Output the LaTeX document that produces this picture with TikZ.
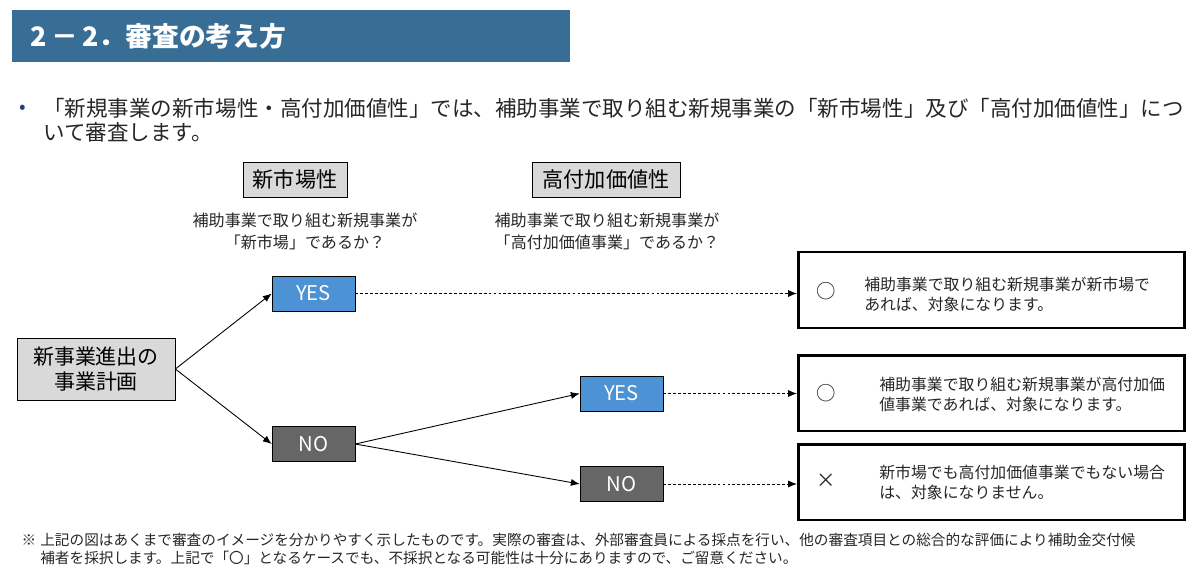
\documentclass[tikz,border=0pt]{standalone}
\usepackage{fontspec}
\newfontfamily\jp{Noto Sans CJK JP}
\usetikzlibrary{arrows.meta}
\definecolor{titleblue}{RGB}{56,110,150}
\definecolor{yesblue}{RGB}{77,146,212}
\definecolor{nogray}{RGB}{102,102,102}
\definecolor{boxgray}{RGB}{217,217,217}
\definecolor{inkgray}{RGB}{38,38,38}
\definecolor{dotblue}{RGB}{40,60,120}

\begin{document}
\begin{tikzpicture}[x=0.567pt,y=-0.567pt,font=\jp,text=inkgray]
	\tikzstyle{Q}=[draw=black,fill=boxgray,text=black,inner sep=0pt,minimum height=20pt,font=\jp\fontsize{12}{14}\selectfont]
	\tikzstyle{YES}=[draw=black,fill=yesblue,text=white,inner sep=0pt,minimum width=47pt,minimum height=20pt,font=\jp\fontsize{11.5}{13}\selectfont]
	\tikzstyle{NO}=[YES,fill=nogray]
	\tikzstyle{ANS}=[draw=black,line width=1.6pt,minimum width=219pt,minimum height=43pt]
	\tikzstyle{SUB}=[align=center,inner sep=0pt,font=\jp\fontsize{9.1}{12.5}\selectfont]
	\tikzstyle{RES}=[anchor=west,align=left,inner sep=0pt,font=\jp\fontsize{9}{11.3}\selectfont]
	\tikzstyle{MK}=[inner sep=0pt,font=\jp\fontsize{11}{13}\selectfont]
	\tikzstyle{go}=[-{Latex[length=5pt,width=4pt]},line width=0.5pt]
	\tikzstyle{dots}=[go,dash pattern=on 1.6pt off 1.2pt]
	\useasboundingbox (0,0) rectangle (1200,577);

	% heading
	\node[fill=titleblue,inner sep=0pt,minimum width=316.4pt,minimum height=29.5pt] (bar) at (291,36) {};
	\node[anchor=west,text=white,inner sep=0pt,font=\jp\bfseries\fontsize{15.2}{18}\selectfont] (title) at (30,36) {2\,－\,2．審査の考え方};
	\node[text=dotblue,inner sep=0pt,font=\jp\fontsize{11}{12}\selectfont] (dot) at (23,109) {•};
	\node[anchor=west,align=left,inner sep=0pt,font=\jp\fontsize{12.2}{13.6}\selectfont] (lead) at (43,120)
		{「新規事業の新市場性・高付加価値性」では、補助事業で取り組む新規事業の「新市場性」及び「高付加価値性」につ\\いて審査します。};

	% questions
	\node[Q,minimum width=59pt] (q1) at (295,179.5) {新市場性};
	\node[Q,minimum width=84pt] (q2) at (606,179.5) {高付加価値性};
	\node[SUB] (s1) at (305,231) {補助事業で取り組む新規事業が\\「新市場」であるか？};
	\node[SUB] (s2) at (607,231) {補助事業で取り組む新規事業が\\「高付加価値事業」であるか？};

	% tree
	\node[Q,align=center,minimum width=89.6pt,minimum height=35pt,font=\jp\fontsize{11.9}{14.2}\selectfont] (plan) at (96,369) {新事業進出の\\事業計画};
	\node[YES] (yes1) at (313.5,293.5) {YES};
	\node[NO] (no1) at (313.5,444) {NO};
	\node[YES] (yes2) at (621.5,393.5) {YES};
	\node[NO] (no2) at (621.5,484) {NO};

	% answers
	\node[ANS] (a1) at (991.5,290) {};
	\node[ANS] (a2) at (991.5,393) {};
	\node[ANS] (a3) at (991.5,482) {};
	\node[MK] (m1) at (826,291) {○};
	\node[MK] (m2) at (826,393) {○};
	\node[MK] (m3) at (826,481) {×};
	\node[RES] (t1) at (864,294) {補助事業で取り組む新規事業が新市場で\\あれば、対象になります。};
	\node[RES] (t2) at (879,394) {補助事業で取り組む新規事業が高付加価\\値事業であれば、対象になります。};
	\node[RES] (t3) at (879,482) {新市場でも高付加価値事業でもない場合\\は、対象になりません。};

	\path[go]
	(plan.east) edge (yes1.west)
	(plan.east) edge (no1.west)
	(no1.east) edge (yes2.west)
	(no1.east) edge (no2.west)
	;
	\path[dots]
	(yes1.east) edge (yes1.east -| a1.west)
	(yes2.east) edge (yes2.east -| a2.west)
	(no2.east) edge (no2.east -| a3.west)
	;

	% note
	\node[inner sep=0pt,font=\jp\fontsize{8.3}{10.2}\selectfont] (kome) at (29,540) {※};
	\node[anchor=west,align=left,inner sep=0pt,font=\jp\fontsize{8.3}{10.2}\selectfont] (foot) at (40,549)
		{上記の図はあくまで審査のイメージを分かりやすく示したものです。実際の審査は、外部審査員による採点を行い、他の審査項目との総合的な評価により補助金交付候\\補者を採択します。上記で「〇」となるケースでも、不採択となる可能性は十分にありますので、ご留意ください。};
\end{tikzpicture}
\end{document}
